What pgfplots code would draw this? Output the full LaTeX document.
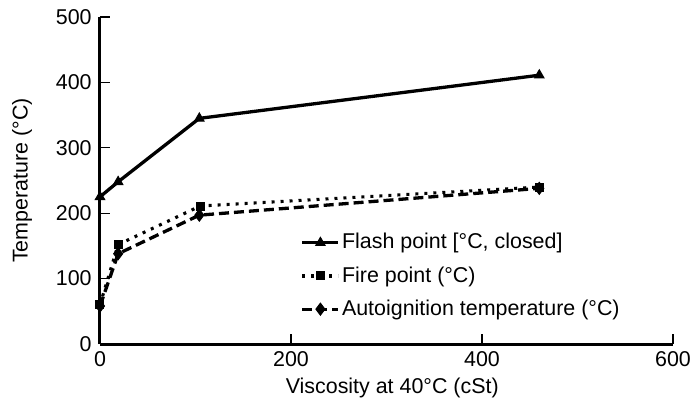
\documentclass[border=0pt]{standalone}
\usepackage{pgfplots}
\pgfplotsset{compat=1.18}
\usepackage{fontspec}
\setmainfont{Liberation Sans}
\newcommand{\ff}{\fontsize{21.5}{25}\selectfont}
\begin{document}
\ff
\begin{tikzpicture}
\path[use as bounding box] (-100bp,-64bp) rectangle (591bp,344bp);
\begin{axis}[
  at={(0,0)}, anchor=south west,
  scale only axis,
  width=573bp, height=327bp,
  xmin=0, xmax=600, ymin=0, ymax=500,
  axis lines*=left,
  axis line style={line width=3bp},
  xtick={0,200,400,600}, ytick={0,100,200,300,400,500},
  tick align=inside,
  major tick length=10bp,
  tick style={line width=1.1bp, black},
  /pgf/number format/assume math mode=true,
  ticklabel style={font=\ff},
  xticklabel style={yshift=0bp},
  yticklabel style={xshift=-1bp},
  label style={font=\ff},
  xlabel={Viscosity at 40°C (cSt)},
  ylabel={Temperature (°C)},
  xlabel style={at={(axis description cs:0.51,-0.135)}, anchor=center},
  ylabel style={at={(axis description cs:-0.136,0.5)}, anchor=center},
  legend style={draw=none, fill=none, at={(axis description cs:0.35,0.345)}, anchor=north west,
    font=\ff, row sep=10.5bp, inner sep=0pt},
  legend cell align=left,
  legend image code/.code={%
    \draw[#1, mark repeat=2, mark phase=2] plot coordinates {(0bp,0bp) (18bp,0bp) (36bp,0bp)};},
]
\addplot[black, line width=3.3bp, mark=triangle*, mark size=5.4bp, mark options={line width=1bp}] coordinates {
 (0,225) (19,248) (104,345) (460,411)};
\addlegendentry{Flash point [°C, closed]}
\addplot[black, line width=3.1bp, dash pattern=on 3bp off 6bp, mark=square*, mark size=4bp, mark options={solid, line width=1bp}] coordinates {
 (0,60) (19,152) (105,211) (460,240)};
\addlegendentry{Fire point (°C)}
\addplot[black, line width=3.3bp, dash pattern=on 10bp off 5bp, mark=diamond*, mark size=6bp, mark options={solid, line width=1bp}] coordinates {
 (0,58) (19,138) (104,197) (460,238)};
\addlegendentry{Autoignition temperature (°C)}
\end{axis}
\end{tikzpicture}
\end{document}
